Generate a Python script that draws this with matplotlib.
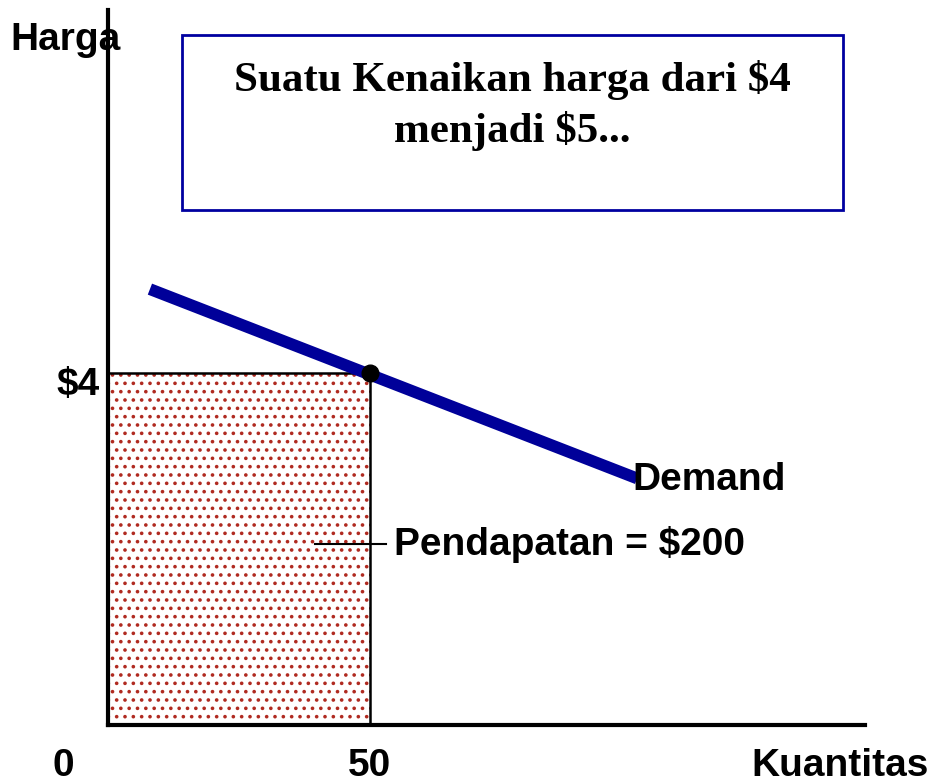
import matplotlib.pyplot as plt
import numpy as np

# data
demand_q = [8, 101]
demand_p = [4.95, 2.8]
q0 = 50
p0 = 4
revenue = q0 * p0
x_ticks = [0, 50]
x_ticklabels = ["0", "50"]

sans = "Liberation Sans"
serif = "Liberation Serif"
plt.rcParams['hatch.linewidth'] = 1.4

fig = plt.figure(figsize=(9.34, 7.83), dpi=100)
ax = fig.add_axes([108/934, 58/783, 757/934, 715/783])
ax.set_xlim(0, 144.5)
ax.set_ylim(0, 8.12)

# revenue rectangle with red dotted fill
ax.bar(0, p0, width=q0, align='edge', color='white', edgecolor='#b02a20',
       hatch='..', lw=0, zorder=1)
ax.plot([0, q0, q0], [p0, p0, 0], color='black', lw=1.8, zorder=2)

# demand curve
ax.plot(demand_q, demand_p, color='#000099', lw=8.5, solid_capstyle='butt', zorder=3)
ax.plot([q0], [p0], 'o', color='black', ms=12, zorder=4)

# label pointer
ax.plot([39.5, 53], [2.05, 2.05], color='black', lw=1.5, zorder=3)

# spines
for s in ['top', 'right']:
    ax.spines[s].set_visible(False)
for s in ['left', 'bottom']:
    ax.spines[s].set_linewidth(3)
ax.set_xticks([])
ax.set_yticks([])

# text labels
fs = 28
ax.text(54.5, 2.05, f"Pendapatan = ${revenue}", fontsize=fs, fontweight='bold',
        family=sans, ha='left', va='center')
ax.text(100, 2.78, "Demand", fontsize=fs, fontweight='bold', family=sans,
        ha='left', va='center')
ax.text(-1.5, 3.86, f"${p0}", fontsize=fs, fontweight='bold', family=sans,
        ha='right', va='center', clip_on=False)
for xt, lab in zip(x_ticks, x_ticklabels):
    xpos = xt if xt else -8.6
    ax.text(xpos, -0.46, lab, fontsize=fs, fontweight='bold', family=sans,
            ha='center', va='center', clip_on=False)
ax.text(139.7, -0.46, "Kuantitas", fontsize=fs, fontweight='bold', family=sans,
        ha='center', va='center', clip_on=False)
fig.text(10/934, 1 - 40/783, "Harga", fontsize=fs, fontweight='bold', family=sans,
         ha='left', va='center')

# annotation box
fig.patches.append(plt.Rectangle((182/934, 1 - 210/783), 661/934, 175/783,
                                 transform=fig.transFigure, facecolor='white',
                                 edgecolor='#0000a0', lw=2, zorder=5))
fig.text(512/934, 1 - 80/783, "Suatu Kenaikan harga dari $4", fontsize=31,
         fontweight='bold', family=serif, ha='center', va='center', zorder=6)
fig.text(512/934, 1 - 131/783, "menjadi $5...", fontsize=31,
         fontweight='bold', family=serif, ha='center', va='center', zorder=6)

fig.savefig("out.png", dpi=100, facecolor='white')
